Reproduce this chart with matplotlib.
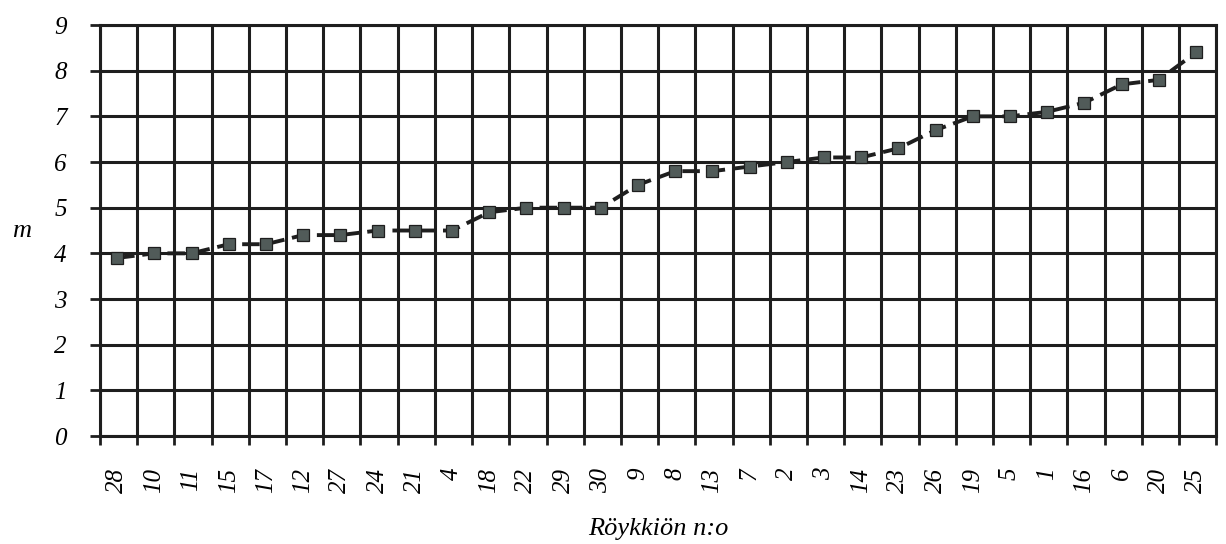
import numpy as np
import matplotlib.pyplot as plt
from matplotlib.ticker import FixedLocator

plt.rcParams['font.family'] = ['Liberation Serif', 'DejaVu Serif']

# Röykkiön numero ja korkeus (m), järjestettynä
roykkio = ['28', '10', '11', '15', '17', '12', '27', '24', '21', '4',
           '18', '22', '29', '30', '9', '8', '13', '7', '2', '3',
           '14', '23', '26', '19', '5', '1', '16', '6', '20', '25']
korkeus = [3.9, 4.0, 4.0, 4.2, 4.2, 4.4, 4.4, 4.5, 4.5, 4.5,
           4.9, 5.0, 5.0, 5.0, 5.5, 5.8, 5.8, 5.9, 6.0, 6.1,
           6.1, 6.3, 6.7, 7.0, 7.0, 7.1, 7.3, 7.7, 7.8, 8.4]

x = np.arange(len(roykkio))
ink = '#1e1e1e'

fig = plt.figure(figsize=(12.26, 5.44), dpi=100)
ax = fig.add_axes([0.0816, 0.1985, 0.9104, 0.7555])

ax.plot(x, korkeus, color=ink, lw=2.8, dashes=(4.5, 2), zorder=3,
        marker='s', markersize=8.5, markerfacecolor='#515b59',
        markeredgecolor=ink, markeredgewidth=0.9)

ax.set_xlim(-0.46, len(roykkio) - 0.46)
ax.set_ylim(0, 9)

ax.set_xticks(x)
ax.set_xticklabels(roykkio, rotation=90, style='italic', fontsize=18)
ax.xaxis.set_minor_locator(FixedLocator(np.arange(-0.46, len(roykkio))))
ax.tick_params(axis='x', which='major', length=0, pad=23)
ax.tick_params(axis='x', which='minor', length=6.5, width=2, color=ink)

ax.set_yticks(range(10))
ax.set_yticklabels([str(v) for v in range(10)], style='italic', fontsize=18)
ax.tick_params(axis='y', length=7, width=2, color=ink, pad=17)

ax.grid(True, which='minor', axis='x', color=ink, lw=2.2)
ax.grid(True, which='major', axis='y', color=ink, lw=2.2)
for s in ax.spines.values():
    s.set_color(ink)
    s.set_linewidth(2.2)

ax.set_xlabel('Röykkiön n:o', style='italic', fontsize=19, labelpad=18)
ax.set_ylabel('m', style='italic', fontsize=19, rotation=0, va='center', ha='center')
ax.yaxis.set_label_coords(-0.07, 0.5)

fig.savefig('out.png', dpi=100)
